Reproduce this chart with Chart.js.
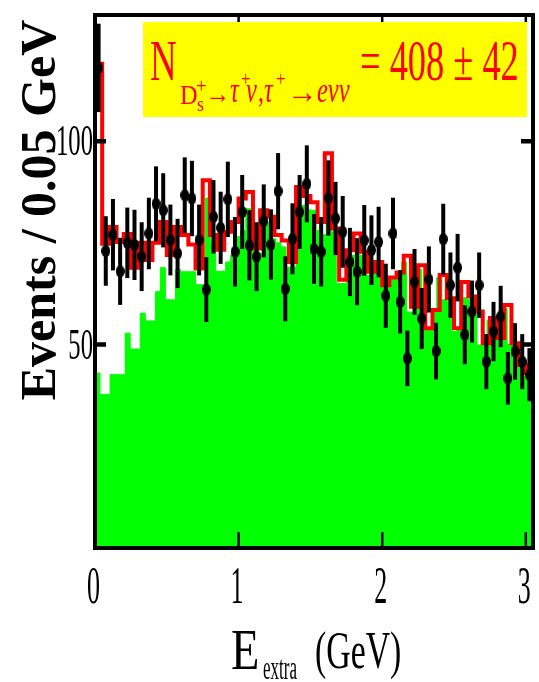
<!DOCTYPE html>
<html lang="en">
<head>
<meta charset="UTF-8">
<title>E_extra distribution</title>
<script src="https://cdn.jsdelivr.net/npm/chart.js"></script>
<style>
  body { margin: 0; background: #fff; }
</style>
</head>
<body>
<canvas id="eextraChart" width="539" height="682"></canvas>
<script>
  // events per 0.05 GeV bin, E_extra from 0 to 3.05 GeV
  const binWidth = 0.05;
  const xMax = 3.05;
  const dataCounts = [
    118, 73, 77, 68, 75, 74.5, 71.6, 77.3, 84.6, 83,
    75.7, 72.4, 86.7, 85.9, 75.7, 63.5, 81.4, 78.7, 85.7, 72.8,
    82.6, 74.4, 71.6, 80.4, 74.6, 87.7, 63.7, 76, 82.6, 89.5,
    73.5, 72.8, 86, 81, 77.7, 70.3, 67.9, 75.6, 73.2, 75.2,
    62, 77.3, 60.5, 46.6, 65.4, 56.4, 66, 48.4, 75.9, 64.6,
    68.9, 52.4, 58.1, 64.6, 45.8, 53.2, 56.9, 41.7, 48.3, 45.8,
    42.6
  ];
  // total fit (signal + background)
  const fitTotal = [
    119, 74.8, 78.9, 75.2, 77.2, 68.9, 75, 70.8, 75, 80.1,
    72, 78.9, 76.9, 74.6, 68.7, 90.4, 76.9, 73.3, 77.7, 80.1,
    85.9, 87.5, 73.6, 83, 81.4, 76.9, 75.6, 70.3, 88.7, 86.5,
    85, 80.1, 97, 78.5, 65.9, 73.2, 77.3, 72.8, 67.9, 70.3,
    64.6, 66.5, 67.7, 71.8, 59.3, 69.5, 54, 58.5, 67.1, 61.4,
    54, 65.4, 61.8, 58.1, 50.3, 56.5, 51.6, 59.7, 50.3, 45,
    43
  ];
  // background shape, finer binning
  const bkgWidth = 0.035;
  const bkgCounts = [
    43, 37.7, 37.7, 42.6, 42.6, 42.6, 52.8, 48.9, 48.9, 57.7,
    55.8, 55.8, 63, 68.9, 61, 61, 68.5, 67.9, 67.9, 67.9,
    64.7, 64.7, 86, 75, 68, 68, 70.3, 72, 76.5, 78,
    83.4, 74, 72.4, 72.4, 80.1, 76, 75, 74, 69, 69,
    86.3, 84.2, 83.1, 83, 78, 77, 84.6, 77.7, 65, 65,
    72, 72, 72, 71.5, 67, 67.5, 69, 64, 64, 66,
    67, 70.3, 58, 58, 68.5, 53.5, 53.5, 58, 66.5, 61,
    60.5, 53.2, 54, 61.5, 61, 57.7, 49.9, 50, 56, 51,
    51, 58.9, 50, 49.5, 44.6, 42.2, 41, 40
  ];
  const xTicks = [0, 1, 2, 3];
  const yTicks = [50, 100];

  const serif = '"Liberation Serif", "Times New Roman", serif';

  // histogram outlines as stepped lines: one point per left edge, plus the closing edge
  const fitPoints = [{ x: 0, y: 0 }].concat(
    fitTotal.map((v, i) => ({ x: i * binWidth, y: v })),
    [{ x: xMax, y: fitTotal[fitTotal.length - 1] }]
  );
  const bkgPoints = bkgCounts.map((v, k) => ({ x: k * bkgWidth, y: v }))
    .concat([{ x: xMax, y: bkgCounts[bkgCounts.length - 1] }]);
  const dataPoints = dataCounts.map((v, i) => ({ x: (i + 0.5) * binWidth, y: v }));

  // slightly tall dot marker
  const dot = document.createElement('canvas');
  dot.width = 9; dot.height = 12;
  const dctx = dot.getContext('2d');
  dctx.fillStyle = '#000';
  dctx.beginPath();
  dctx.ellipse(4.5, 6, 4.5, 6, 0, 0, Math.PI * 2);
  dctx.fill();

  function drawText(ctx, str, x, y, font, sx, align) {
    ctx.save();
    ctx.font = font;
    ctx.textAlign = align || 'left';
    ctx.translate(x, y);
    ctx.scale(sx, 1);
    ctx.fillText(str, 0, 0);
    ctx.restore();
  }

  const errorBars = {
    id: 'errorBars',
    afterDatasetsDraw(chart) {
      const { ctx, chartArea: a, scales: { x, y } } = chart;
      ctx.save();
      ctx.beginPath();
      ctx.rect(a.left, a.top, a.right - a.left, a.bottom - a.top);
      ctx.clip();
      ctx.strokeStyle = '#000';
      ctx.lineWidth = 4;
      dataCounts.forEach((c, i) => {
        const err = Math.sqrt(c);
        const px = x.getPixelForValue((i + 0.5) * binWidth);
        ctx.beginPath();
        ctx.moveTo(px, y.getPixelForValue(c - err));
        ctx.lineTo(px, y.getPixelForValue(c + err));
        ctx.stroke();
      });
      ctx.restore();

      // frame with inward ticks
      ctx.save();
      ctx.strokeStyle = '#000';
      ctx.lineWidth = 4;
      ctx.strokeRect(a.left, a.top, a.right - a.left, a.bottom - a.top);
      ctx.lineWidth = 4.5;
      yTicks.forEach(v => {
        const py = y.getPixelForValue(v);
        ctx.beginPath();
        ctx.moveTo(a.left, py); ctx.lineTo(a.left + 11, py);
        ctx.moveTo(a.right, py); ctx.lineTo(a.right - 12, py);
        ctx.stroke();
      });
      ctx.lineWidth = 2.5;
      xTicks.slice(1).forEach(v => {
        const px = x.getPixelForValue(v);
        ctx.beginPath();
        ctx.moveTo(px, a.bottom); ctx.lineTo(px, a.bottom - 16);
        ctx.moveTo(px, a.top); ctx.lineTo(px, a.top + 12);
        ctx.stroke();
      });
      ctx.restore();
    }
  };

  const labels = {
    id: 'labels',
    afterDraw(chart) {
      const { ctx, scales: { x, y } } = chart;
      ctx.save();
      ctx.fillStyle = '#000';
      ctx.textBaseline = 'alphabetic';
      xTicks.forEach(v => {
        drawText(ctx, String(v), x.getPixelForValue(v) - 1.5, 603, '53px ' + serif, 0.49, 'center');
      });
      yTicks.forEach(v => {
        drawText(ctx, String(v), 93, y.getPixelForValue(v) + 14, '44px ' + serif, 0.56, 'right');
      });

      // axis titles
      drawText(ctx, 'E', 231, 669, '58px ' + serif, 0.8);
      drawText(ctx, 'extra', 263, 679, '34px ' + serif, 0.5);
      drawText(ctx, '(GeV)', 315, 668, '52px ' + serif, 0.65);

      ctx.save();
      ctx.translate(55, 210);
      ctx.rotate(-Math.PI / 2);
      ctx.font = 'bold 50px ' + serif;
      ctx.textAlign = 'center';
      ctx.fillText('Events / 0.05 GeV', 0, 0);
      ctx.restore();

      // yield box
      ctx.fillStyle = '#ffff00';
      ctx.fillRect(143, 22, 384, 95);
      ctx.fillStyle = '#ff0000';
      const it = 'italic ';
      drawText(ctx, 'N', 150, 80, '56px ' + serif, 0.66);
      drawText(ctx, 'D', 180, 104, '27px ' + serif, 0.9);
      drawText(ctx, 's', 197, 111, '22px ' + serif, 0.8);
      drawText(ctx, '+', 196, 93, '21px ' + serif, 0.9);
      drawText(ctx, '\u2192', 205, 103, '28px ' + serif, 0.9);
      drawText(ctx, '\u03c4', 230, 102, it + '36px ' + serif, 0.68);
      drawText(ctx, '+', 241, 86, '21px ' + serif, 0.8);
      drawText(ctx, '\u03bd', 246, 102, it + '36px ' + serif, 0.68);
      drawText(ctx, ',', 258, 102, '34px ' + serif, 0.7);
      drawText(ctx, '\u03c4', 264, 102, it + '36px ' + serif, 0.68);
      drawText(ctx, '+', 276, 86, '21px ' + serif, 0.8);
      drawText(ctx, '\u2192', 287, 103, '34px ' + serif, 0.9);
      drawText(ctx, 'e\u03bd\u03bd', 317, 102, it + '36px ' + serif, 0.68);
      drawText(ctx, '= 408 \u00b1 42', 360, 80, '56px ' + serif, 0.65);
      ctx.restore();
    }
  };

  new Chart(document.getElementById('eextraChart'), {
    type: 'scatter',
    data: {
      datasets: [
        {
          label: 'Data',
          data: dataPoints,
          pointStyle: dot,
          pointRadius: 5,
          order: 0
        },
        {
          type: 'line',
          label: 'Total fit',
          data: fitPoints,
          stepped: true,
          borderColor: '#ff0000',
          borderWidth: 4,
          pointRadius: 0,
          fill: false,
          order: 1
        },
        {
          type: 'line',
          label: 'Background',
          data: bkgPoints,
          stepped: true,
          borderColor: '#00ff00',
          borderWidth: 1,
          backgroundColor: '#00ff00',
          pointRadius: 0,
          fill: 'origin',
          order: 2
        }
      ]
    },
    options: {
      responsive: false,
      animation: false,
      layout: { padding: { left: 95, right: 3, top: 15, bottom: 134 } },
      plugins: { legend: { display: false }, tooltip: { enabled: false } },
      scales: {
        x: { type: 'linear', min: 0, max: xMax, display: false },
        y: { type: 'linear', min: 0, max: 131, display: false }
      }
    },
    plugins: [errorBars, labels]
  });
</script>
</body>
</html>
